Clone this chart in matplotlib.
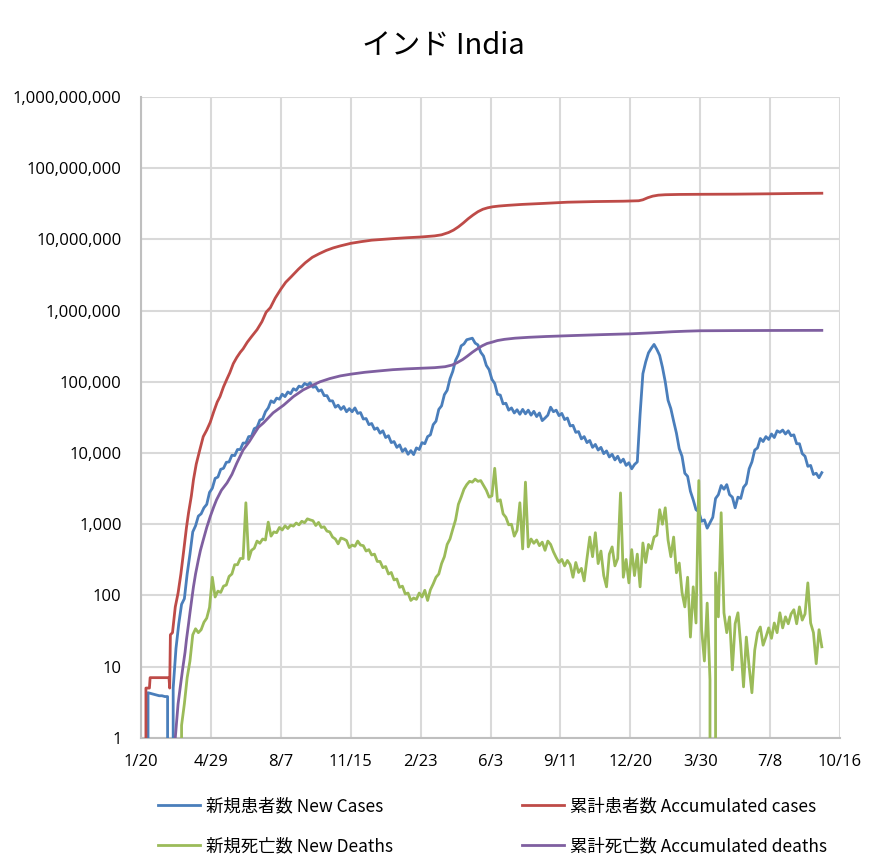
import numpy as np
import matplotlib
matplotlib.use("Agg")
import matplotlib.pyplot as plt
from matplotlib.ticker import FixedLocator, FuncFormatter

plt.rcParams['font.family'] = ['Noto Sans CJK JP', 'DejaVu Sans']

# ---------------- data (day 0 = 2020-01-20) ----------------
title = "インド India"
x_tick_days = [0, 100, 200, 300, 400, 500, 600, 700, 800, 900, 1000]
x_tick_labels = ["1/20", "4/29", "8/7", "11/15", "2/23", "6/3", "9/11",
                 "12/20", "3/30", "7/8", "10/16"]

labels = ["新規患者数 New Cases", "累計患者数 Accumulated cases",
          "新規死亡数 New Deaths", "累計死亡数 Accumulated deaths"]

# New cases: sampled every 4 days starting day 6
new_cases_start = 6
new_cases_step = 4
new_cases = [
    0, 4.3, 4.2, 4.1, 4.0, 3.9, 3.9, 3.8, 3.8, 0,
    5, 18, 40, 75, 90, 200, 380, 780, 950, 1300,
    1400, 1700, 1900, 2800, 3200, 4400, 4600, 5900, 6100, 7400,
    7500, 9300, 9200, 11200, 11200, 13800, 13800, 17000, 17200, 22000,
    23000, 29000, 30000, 38000, 43000, 54000, 51000, 59000, 57000, 67000,
    62000, 72000, 68000, 80000, 76000, 87000, 84000, 95000, 90000, 97000,
    84000, 86000, 74000, 77000, 64000, 64000, 54000, 54000, 44000, 47000,
    41000, 45000, 38000, 42000, 38000, 43000, 36000, 37000, 30000, 30500,
    25000, 26000, 21500, 22500, 19000, 20500, 16500, 17500, 14000, 14500,
    12000, 13000, 10500, 11500, 9600, 10800, 9500, 11800, 11200, 14000,
    13500, 17000, 18000, 25000, 28000, 41000, 46000, 66000, 76000, 110000,
    140000, 200000, 240000, 320000, 340000, 390000, 400000, 410000, 350000, 330000,
    260000, 230000, 170000, 148000, 108000, 95000, 67000, 65000, 49000, 50000,
    40000, 43000, 36500, 40500, 35000, 41000, 35500, 40000, 34000, 38500,
    32500, 36500, 28500, 31000, 34000, 44000, 38000, 40000, 33500, 36000,
    29500, 31000, 24000, 24500, 19500, 20000, 15800, 17000, 14000, 15000,
    12000, 13200, 11000, 12000, 9800, 10700, 8800, 9600, 8000, 9000,
    7400, 8200, 6700, 7300, 6000, 6900, 7500, 35000, 130000, 190000,
    255000, 295000, 335000, 285000, 235000, 160000, 100000, 55000, 42000, 28000,
    19000, 11500, 9000, 5200, 4700, 2900, 2200, 1600, 1500, 1100,
    1150, 880, 1050, 1250, 2300, 2600, 3500, 3100, 3600, 2600,
    2400, 1700, 2400, 2300, 3300, 3700, 6000, 7500, 11000, 11800,
    16000, 14500, 17000, 15500, 18500, 16500, 20500, 19500, 21000, 18500,
    20500, 17500, 18000, 13500, 13500, 9800, 9000, 6500, 6700, 5000,
    5200, 4500, 5300,
]

# New deaths: sampled every 4 days starting day 54
new_deaths_start = 54
new_deaths_step = 4
new_deaths = [
    0, 1.5, 3, 7, 12, 28, 34, 30, 33, 42,
    48, 68, 180, 95, 115, 110, 135, 140, 185, 200,
    270, 270, 330, 330, 2000, 320, 430, 460, 580, 540,
    620, 600, 1070, 680, 780, 760, 900, 830, 950, 870,
    970, 940, 1040, 980, 1100, 1050, 1190, 1150, 1120, 960,
    1060, 900, 920, 800, 780, 660, 620, 530, 640, 620,
    590, 470, 510, 490, 580, 510, 500, 420, 440, 370,
    380, 300, 300, 245, 255, 200, 210, 165, 170, 130,
    135, 105, 108, 85, 92, 88, 108, 95, 118, 85,
    120, 145, 180, 200, 280, 350, 520, 620, 850, 1150,
    1900, 2400, 3100, 3600, 4000, 3900, 4300, 4000, 4100, 3500,
    3000, 2400, 2500, 6100, 2100, 2200, 1400, 1250, 980, 1000,
    680, 820, 2000, 450, 3900, 480, 620, 540, 600, 500,
    560, 430, 580, 520, 410, 340, 290, 320, 260, 310,
    270, 180, 290, 210, 240, 160, 330, 660, 350, 760,
    280, 420, 190, 132, 380, 480, 260, 330, 2750, 180,
    320, 150, 440, 190, 380, 132, 545, 290, 520, 450,
    660, 700, 1600, 1000, 1700, 600, 350, 660, 208, 285,
    110, 69, 180, 26, 132, 41, 4100, 33, 12, 78,
    6.5, 0, 208, 50, 1450, 57, 30, 50, 9, 40,
    57, 20, 5.2, 26, 10, 4.3, 17, 30, 36, 20,
    26, 35, 25, 41, 30, 57, 35, 50, 40, 55,
    63, 40, 69, 45, 55, 150, 41, 30, 11, 33,
    19,
]

# Accumulated cases
acc_cases_days = [6, 7, 12, 13, 40, 41, 42, 45, 49, 53, 57, 61, 65, 68, 72, 75,
                  79, 84, 89, 94, 99, 104, 109, 113, 118, 123, 127, 132, 137,
                  142, 146, 152, 158, 166, 173, 179, 185, 192, 200, 207, 215,
                  225, 235, 245, 255, 265, 275, 285, 300, 315, 330, 345, 360,
                  380, 400, 410, 420, 430, 440, 447, 454, 461, 468, 475, 482,
                  489, 496, 503, 512, 525, 545, 575, 610, 650, 690, 712, 718,
                  725, 732, 740, 750, 770, 800, 850, 900, 940, 974]
acc_cases = [0, 5, 5, 7, 7, 5, 28, 30, 69, 108, 200, 420, 900, 1450, 2500, 4200,
             7000, 11000, 17000, 21000, 27000, 38000, 52000, 62000, 85000,
             110000, 134000, 180000, 220000, 260000, 290000, 360000, 430000,
             540000, 700000, 950000, 1100000, 1500000, 2000000, 2500000,
             3000000, 3800000, 4700000, 5600000, 6300000, 7000000, 7600000,
             8100000, 8800000, 9300000, 9750000, 10000000, 10250000, 10550000,
             10800000, 11000000, 11200000, 11600000, 12500000, 13500000,
             15000000, 17000000, 19500000, 22000000, 24500000, 26500000,
             27800000, 28700000, 29400000, 30100000, 31000000, 32000000,
             33300000, 34000000, 34400000, 34900000, 36000000, 38500000,
             40500000, 41800000, 42400000, 42800000, 43000000, 43200000,
             43700000, 44200000, 44500000]

# Accumulated deaths
acc_deaths_days = [48, 49, 53, 57, 60, 63, 65, 68, 70, 73, 75, 78, 82, 85, 89,
                   94, 99, 104, 108, 115, 123, 130, 137, 146, 155, 161, 168,
                   175, 189, 204, 218, 232, 246, 256, 270, 285, 300, 320, 340,
                   360, 380, 400, 420, 435, 445, 452, 460, 467, 474, 481, 488,
                   495, 502, 510, 520, 535, 555, 580, 620, 660, 700, 720, 740,
                   760, 780, 800, 850, 900, 974]
acc_deaths = [0, 1, 3, 6, 10, 16, 24, 40, 57, 95, 132, 200, 315, 430, 600,
              900, 1280, 1750, 2200, 3000, 3800, 5000, 7200, 11000, 14500,
              18000, 23000, 26400, 36700, 47000, 62000, 77000, 90000, 100000,
              111000, 121000, 128000, 136000, 142000, 148000, 152000, 155000,
              158000, 163000, 172000, 185000, 205000, 230000, 260000, 290000,
              320000, 345000, 360000, 380000, 395000, 410000, 422000, 433000,
              447000, 460000, 472000, 482000, 492000, 505000, 514000, 521000,
              524000, 526000, 528000]

# ---------------- plot ----------------
colors = ["#4A7EBB", "#BE4B48", "#9BBB59", "#7F5FA0"]

fig = plt.figure(figsize=(8.87, 8.66), dpi=100)
ax = fig.add_axes([0.159, 0.148, 0.788, 0.740])

nc_days = new_cases_start + new_cases_step * np.arange(len(new_cases))
nd_days = new_deaths_start + new_deaths_step * np.arange(len(new_deaths))

lw = 2.0
h1, = ax.plot(nc_days, new_cases, color=colors[0], lw=lw, zorder=3)
h2, = ax.plot(acc_cases_days, acc_cases, color=colors[1], lw=lw, zorder=3)
h3, = ax.plot(nd_days, new_deaths, color=colors[2], lw=lw, zorder=3)
h4, = ax.plot(acc_deaths_days, acc_deaths, color=colors[3], lw=lw, zorder=4)

ax.set_yscale('log')
ax.set_ylim(1, 1e9)
ax.set_xlim(0, 1000)

ax.xaxis.set_major_locator(FixedLocator(x_tick_days))
ax.set_xticklabels(x_tick_labels)
ax.yaxis.set_major_locator(FixedLocator([10 ** k for k in range(10)]))
ax.yaxis.set_minor_locator(FixedLocator([]))
ax.yaxis.set_major_formatter(FuncFormatter(lambda v, p: f"{int(round(v)):,}"))

ax.grid(True, which='major', color='#D9D9D9', lw=1.5)
ax.set_axisbelow(True)
for s in ['top', 'right']:
    ax.spines[s].set_visible(False)
for s in ['left', 'bottom']:
    ax.spines[s].set_color('#BFBFBF')
    ax.spines[s].set_linewidth(1.5)
ax.tick_params(axis='both', length=0, labelsize=12, colors='black')
ax.tick_params(axis='y', pad=14)
ax.tick_params(axis='x', pad=12)
for t in ax.get_xticklabels() + ax.get_yticklabels():
    t.set_family(['Open Sans', 'DejaVu Sans'])

fig.text(0.5, 0.947, title, ha='center', va='center', fontsize=21)

fig.legend([h1, h3, h2, h4], [labels[0], labels[2], labels[1], labels[3]],
           ncol=2, loc='center', bbox_to_anchor=(0.5555, 0.046), frameon=False,
           fontsize=12.5, handlelength=2.4, handletextpad=0.35,
           columnspacing=7.45, labelspacing=1.3)

fig.savefig("out.png", dpi=100)
